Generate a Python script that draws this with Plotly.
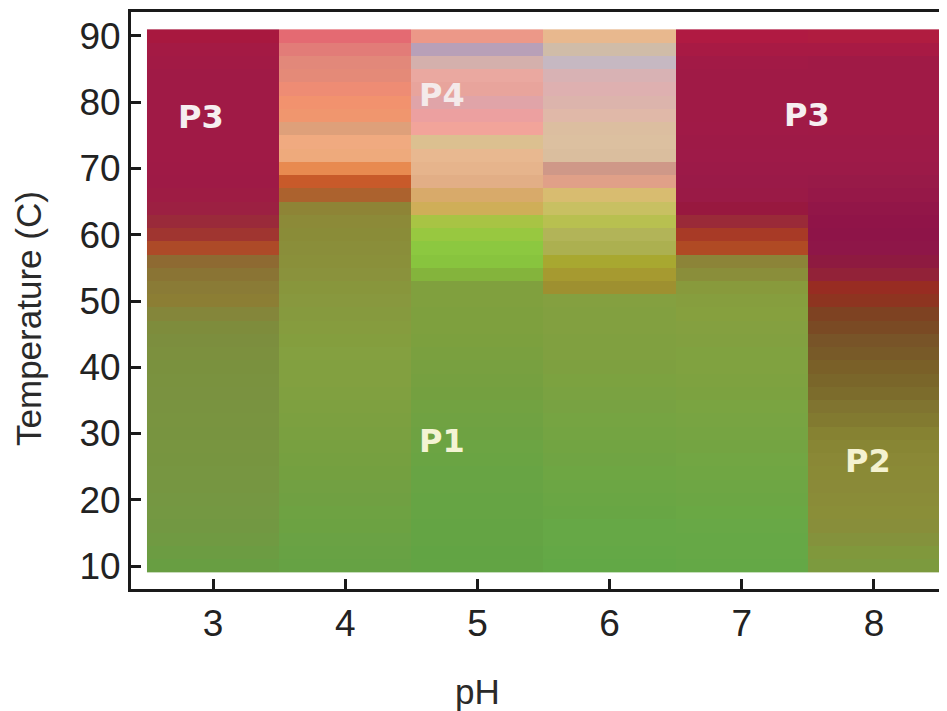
import plotly.graph_objects as go

# pH categories (columns) and temperature rows (top to bottom)
ph_values = [3, 4, 5, 6, 7, 8]
temps_desc = [90, 88, 86, 84, 82, 80, 78, 76, 74, 72, 70, 68, 66, 64, 62, 60, 58, 56, 54, 52, 50,
              48, 46, 44, 42, 40, 38, 36, 34, 32, 30, 28, 26, 24, 22, 20, 18, 16, 14, 12, 10]

# observed phase colour per cell, listed from 90 C down to 10 C
ph3_colors = ["#a8183f", "#a41a44", "#a21a45", "#a01a46", "#a01a46", "#a01a46", "#a01a46", "#a01a46",
              "#a01a46", "#a01a46", "#9f1a46", "#9e1a46", "#9e1c44", "#9c2042", "#9a2a3a", "#a03530",
              "#ad4a28", "#8e6a32", "#8a7434", "#8a7b36", "#8c7e34", "#84863a", "#7e8c3c", "#7c8e3e",
              "#7c903e", "#7a913e", "#7a923f", "#7a9240", "#799340", "#799440", "#789440", "#789540",
              "#779540", "#779641", "#769641", "#759742", "#749842", "#729842", "#709a42", "#6c9c42",
              "#689e42"]
ph4_colors = ["#e46a72", "#e27c78", "#e2887a", "#e48a78", "#ee8c74", "#f2926e", "#f0966e", "#dea07a",
              "#f0aa80", "#eeaa7c", "#e88a50", "#c85a2a", "#ac622e", "#8e8436", "#8c8a38", "#8a8c38",
              "#8a8e3a", "#8a903a", "#8a923c", "#88963c", "#88983e", "#869a3e", "#869c3e", "#849e3e",
              "#84a040", "#82a040", "#82a040", "#80a040", "#7ea040", "#7ca040", "#7aa040", "#78a040",
              "#76a040", "#74a040", "#72a042", "#70a042", "#6ea242", "#6ca242", "#6aa244", "#68a244",
              "#66a244"]
ph5_colors = ["#ec9888", "#b8a0b8", "#d4b0ac", "#eaa8a0", "#e8a49c", "#e0a4a8", "#eca0a0", "#f2a49a",
              "#dcc090", "#e8b890", "#e6b48c", "#e2ae86", "#d8aa6a", "#cfae58", "#a8c444", "#98c840",
              "#8cc840", "#88c43e", "#84b43c", "#80a03e", "#80a03e", "#7ea03e", "#7ea03e", "#7ca03e",
              "#7aa03f", "#78a040", "#76a040", "#74a040", "#72a241", "#70a242", "#6ea242", "#6ca443",
              "#6aa443", "#68a444", "#68a444", "#66a444", "#66a444", "#64a444", "#64a444", "#62a444",
              "#62a444"]
ph6_colors = ["#e8b88e", "#d0bca8", "#c6b8c2", "#d8b2b4", "#deb0b0", "#dcb4ac", "#e0b8a8", "#dcbea0",
              "#dcc0a0", "#dabe9e", "#cf9888", "#e0a088", "#d8bc70", "#c8c062", "#b8c050", "#b2b458",
              "#acb050", "#a8a830", "#a69a30", "#9e9030", "#84a040", "#82a040", "#82a040", "#80a040",
              "#80a040", "#7ea040", "#7ca240", "#7aa241", "#78a242", "#76a442", "#74a442", "#72a442",
              "#70a443", "#6ea643", "#6ca644", "#6aa644", "#68a644", "#66a846", "#66a846", "#64a846",
              "#62a846"]
ph7_colors = ["#b01a42", "#a81a44", "#a21a46", "#a01a46", "#a01a46", "#a01a46", "#a01a46", "#a01a47",
              "#9e1a47", "#9e1a48", "#9c1a48", "#9a1a48", "#9a1a46", "#98183f", "#9a2a38", "#a83a26",
              "#b04a24", "#8c8438", "#8a8e3a", "#889a3c", "#869e3e", "#86a03e", "#84a040", "#82a040",
              "#80a240", "#80a240", "#7ea240", "#7ca240", "#7aa441", "#78a442", "#76a442", "#74a442",
              "#72a643", "#70a643", "#6ea644", "#6ca644", "#6aa844", "#68a846", "#66a846", "#66a846",
              "#64a846"]
ph8_colors = ["#b01c40", "#a81a44", "#a01a46", "#a01a46", "#a01a46", "#a01a46", "#a01a46", "#a01a46",
              "#9e1a47", "#9e1a48", "#9c1a48", "#981a48", "#961848", "#921648", "#901448", "#8e1448",
              "#8e1648", "#8e1a40", "#922238", "#982c22", "#8e3420", "#7e4222", "#7a4a24", "#785428",
              "#785a28", "#7a6028", "#7a662a", "#7c6c2c", "#807430", "#827a30", "#868232", "#888634",
              "#8a8836", "#8a8a36", "#8a8a38", "#8a8c38", "#8a8e38", "#888e3a", "#84923c", "#80983c",
              "#7c9a3e"]

x_ticks = [3, 4, 5, 6, 7, 8]
y_ticks = [10, 20, 30, 40, 50, 60, 70, 80, 90]

phase_labels = ["P3", "P4", "P3", "P1", "P2"]
label_ph = [2.91, 4.73, 7.49, 4.73, 7.955]
label_temp = [77.8, 81.1, 78.1, 28.9, 25.9]
label_colors = ["#f6eef0", "#f4eaea", "#f6eef0", "#f4f4d4", "#f4f2d0"]

columns = [ph3_colors, ph4_colors, ph5_colors, ph6_colors, ph7_colors, ph8_colors]

# build a discrete palette so each cell is painted with its exact colour
palette = []
for col in columns:
    for c in col:
        if c not in palette:
            palette.append(c)
n = len(palette)
colorscale = []
for i, c in enumerate(palette):
    colorscale.append([i / n, c])
    colorscale.append([(i + 1) / n, c])

temps_asc = temps_desc[::-1]
z = []
for r, t in enumerate(temps_asc):
    row = []
    for col in columns:
        row.append(palette.index(col[::-1][r]) + 0.5)
    z.append(row)

fig = go.Figure()
fig.add_trace(go.Heatmap(
    z=z, x=ph_values, y=temps_asc,
    colorscale=colorscale, zmin=0, zmax=n,
    showscale=False, hoverinfo="skip",
))

for txt, xv, yv, c in zip(phase_labels, label_ph, label_temp, label_colors):
    fig.add_annotation(x=xv, y=yv, text="<b>" + txt + "</b>", showarrow=False,
                       font=dict(family="DejaVu Sans", size=32, color=c))

fig.add_annotation(text="Temperature (C)", textangle=-90, xref="paper", yref="paper",
                   x=-0.125, y=0.468, xanchor="center", yanchor="middle", showarrow=False,
                   font=dict(family="Liberation Sans", size=35, color="#2a2a2a"))
fig.add_annotation(text="pH", xref="paper", yref="paper",
                   x=0.4252, y=-0.1785, xanchor="center", yanchor="middle", showarrow=False,
                   font=dict(family="Liberation Sans", size=35, color="#2a2a2a"))

axis_common = dict(showgrid=False, zeroline=False, showline=True, linewidth=3,
                   linecolor="#1a1a1a", ticks="inside", ticklen=10, tickwidth=3,
                   tickcolor="#1a1a1a",
                   tickfont=dict(family="Liberation Sans", size=37, color="#222222"))

fig.update_layout(
    width=939, height=703,
    margin=dict(l=123, r=0, t=4, b=122),
    paper_bgcolor="white", plot_bgcolor="white",
    xaxis=dict(range=[2.379, 8.553], tickvals=x_ticks, mirror=True,
               ticklabelstandoff=0, **axis_common),
    yaxis=dict(range=[6.53, 93.62], tickvals=y_ticks, mirror=False,
               ticklabelstandoff=0, **axis_common),
    showlegend=False,
)

fig.write_html("out.html")
